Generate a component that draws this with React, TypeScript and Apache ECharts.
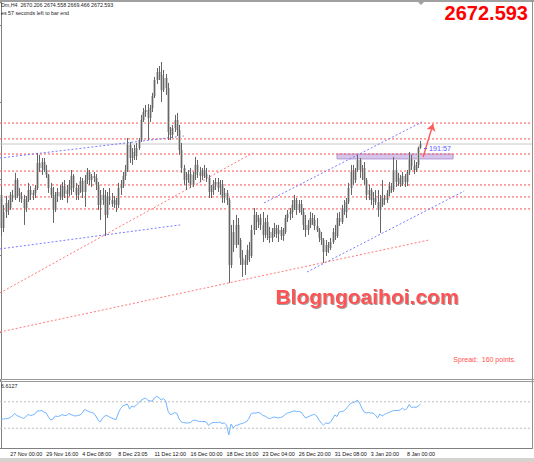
import React, { useEffect, useRef } from "react";
import * as echarts from "echarts";

// ---------- texts (as far as they are visible in the window) ----------
const symbolLabel = "Dm,H4  2670.206 2674.558 2669.466 2672.593";
const timerLabel = "es 57 seconds left to bar end";
const bidLabel = "2672.593";
const spreadLabel = "Spread:  160 points.";
const watermarkLabel = "Blogngoaihoi.com";
const countdownLabel = "191:57";
const rsiLabel = "6.6127";

// ---------- x axis ----------
const SLOTS = 236; // bar slots across the window (includes right chart shift)
const tickIndex = [4, 20, 36, 52, 68, 84, 100, 116, 132, 148, 164, 180];
const tickLabels = [
  "27 Nov 00:00", "29 Nov 16:00", "4 Dec 08:00", "8 Dec 23:05", "11 Dec 12:00", "16 Dec 00:00",
  "18 Dec 16:00", "23 Dec 04:00", "26 Dec 20:00", "31 Dec 08:00", "3 Jan 20:00", "8 Jan 00:00",
];

// ---------- OHLC bars [open, high, low, close] ----------
const barsNov = [
  [2639.5, 2645.3, 2612.8, 2618.0], [2618.0, 2633.0, 2615.4, 2628.4], [2628.4, 2638.8, 2624.5, 2634.3],
  [2634.3, 2636.2, 2626.5, 2631.0], [2631.0, 2641.4, 2629.7, 2639.5], [2639.5, 2642.7, 2634.9, 2637.5],
  [2637.5, 2653.8, 2636.2, 2649.2], [2649.2, 2650.5, 2637.5, 2640.8], [2640.8, 2644.0, 2634.9, 2638.8],
  [2638.8, 2641.4, 2634.3, 2636.9], [2636.9, 2639.5, 2620.0, 2631.0], [2631.0, 2638.8, 2628.4, 2636.2],
  [2636.2, 2647.3, 2634.9, 2642.7], [2642.7, 2645.3, 2636.2, 2639.5], [2639.5, 2642.7, 2636.2, 2640.8],
  [2640.8, 2646.0, 2637.5, 2644.0], [2644.0, 2666.8, 2642.7, 2660.3], [2660.3, 2665.5, 2654.4, 2657.0],
  [2657.0, 2663.5, 2652.5, 2660.9], [2660.9, 2663.5, 2654.4, 2655.7], [2655.7, 2659.0, 2650.5, 2652.5],
  [2652.5, 2653.1, 2640.8, 2644.0], [2644.0, 2647.3, 2637.5, 2639.5], [2639.5, 2644.7, 2621.3, 2629.7],
  [2629.7, 2641.4, 2628.4, 2638.8], [2638.8, 2644.0, 2634.9, 2641.4], [2641.4, 2646.0, 2636.2, 2638.2],
  [2638.2, 2647.9, 2636.2, 2645.3], [2645.3, 2649.2, 2637.5, 2640.1], [2640.1, 2646.0, 2634.3, 2642.7],
  [2642.7, 2649.2, 2638.8, 2646.6], [2646.6, 2655.7, 2639.5, 2651.8], [2651.8, 2653.1, 2641.4, 2644.0],
  [2644.0, 2647.3, 2636.2, 2639.5], [2639.5, 2646.0, 2636.2, 2642.7], [2642.7, 2651.2, 2640.8, 2648.6],
  [2648.6, 2650.5, 2637.5, 2641.4], [2641.4, 2652.5, 2631.7, 2649.2], [2649.2, 2657.0, 2646.6, 2654.4],
  [2654.4, 2655.7, 2646.0, 2649.2], [2649.2, 2653.1, 2644.7, 2651.8], [2651.8, 2654.4, 2647.9, 2650.5],
  [2650.5, 2653.1, 2642.7, 2646.0], [2646.0, 2647.9, 2629.7, 2633.0], [2633.0, 2642.7, 2623.2, 2639.5],
  [2639.5, 2644.0, 2633.0, 2636.2], [2636.2, 2642.7, 2612.8, 2626.5], [2626.5, 2641.4, 2624.5, 2638.8],
  [2638.8, 2644.0, 2633.0, 2636.2], [2636.2, 2640.8, 2631.7, 2633.6],
];
const barsDecA = [
  [2633.6, 2638.8, 2631.0, 2636.2], [2636.2, 2637.5, 2628.4, 2633.0], [2633.0, 2647.3, 2631.0, 2644.0],
  [2644.0, 2649.2, 2639.5, 2646.0], [2646.0, 2654.4, 2644.0, 2651.8], [2651.8, 2659.0, 2649.2, 2655.7],
  [2655.7, 2676.5, 2654.4, 2672.0], [2672.0, 2673.9, 2660.3, 2663.5], [2663.5, 2670.0, 2659.0, 2667.4],
  [2667.4, 2672.0, 2662.2, 2664.8], [2664.8, 2673.3, 2662.2, 2670.0], [2670.0, 2676.5, 2668.7, 2675.2],
  [2675.2, 2691.5, 2673.9, 2688.2], [2688.2, 2696.0, 2686.9, 2693.4], [2693.4, 2698.0, 2690.2, 2694.7],
  [2694.7, 2698.6, 2675.2, 2689.5], [2689.5, 2698.0, 2686.9, 2696.0], [2696.0, 2705.8, 2693.4, 2703.8],
  [2703.8, 2716.2, 2702.5, 2714.2], [2714.2, 2722.0, 2711.6, 2719.4], [2719.4, 2723.3, 2714.2, 2717.5],
  [2717.5, 2725.9, 2699.9, 2707.7], [2707.7, 2720.7, 2706.4, 2715.5], [2715.5, 2718.1, 2704.5, 2709.0],
  [2709.0, 2712.3, 2675.2, 2680.4], [2680.4, 2683.7, 2675.2, 2678.5], [2678.5, 2685.0, 2676.5, 2683.0],
  [2683.0, 2691.5, 2680.4, 2688.2], [2688.2, 2692.8, 2677.8, 2681.7], [2681.7, 2685.0, 2665.5, 2668.7],
  [2668.7, 2673.3, 2653.8, 2657.0], [2657.0, 2659.0, 2646.0, 2649.2], [2649.2, 2654.4, 2642.7, 2651.8],
  [2651.8, 2655.7, 2647.3, 2653.1], [2653.1, 2657.0, 2644.0, 2646.0], [2646.0, 2654.4, 2644.7, 2652.5],
  [2652.5, 2664.2, 2649.2, 2659.0], [2659.0, 2662.2, 2650.5, 2654.4], [2654.4, 2657.7, 2647.9, 2651.8],
  [2651.8, 2657.0, 2649.2, 2655.7], [2655.7, 2659.0, 2650.5, 2653.1], [2653.1, 2657.0, 2647.9, 2650.5],
  [2650.5, 2652.5, 2637.5, 2641.4], [2641.4, 2646.0, 2637.5, 2642.7], [2642.7, 2649.2, 2639.5, 2646.0],
  [2646.0, 2650.5, 2642.7, 2647.9], [2647.9, 2650.5, 2641.4, 2644.0], [2644.0, 2649.2, 2639.5, 2646.6],
  [2646.6, 2649.2, 2634.3, 2637.5], [2637.5, 2644.0, 2634.3, 2640.8],
];
const barsDecB = [
  [2640.8, 2642.7, 2633.0, 2636.2], [2636.2, 2637.5, 2582.3, 2594.0], [2594.0, 2620.0, 2592.0, 2615.4],
  [2615.4, 2623.2, 2602.4, 2607.0], [2607.0, 2626.5, 2605.0, 2620.0], [2620.0, 2624.5, 2607.0, 2610.2],
  [2610.2, 2611.5, 2594.0, 2598.5], [2598.5, 2603.7, 2586.2, 2594.0], [2594.0, 2600.5, 2587.5, 2597.2],
  [2597.2, 2607.0, 2594.0, 2603.7], [2603.7, 2608.9, 2595.9, 2599.8], [2599.8, 2620.0, 2598.5, 2616.7],
  [2616.7, 2631.0, 2613.5, 2626.5], [2626.5, 2628.4, 2616.7, 2621.9], [2621.9, 2626.5, 2618.0, 2624.5],
  [2624.5, 2627.1, 2616.7, 2620.0], [2620.0, 2628.4, 2608.9, 2613.5], [2613.5, 2624.5, 2611.5, 2621.9],
  [2621.9, 2626.5, 2610.2, 2615.4], [2615.4, 2618.7, 2608.3, 2611.5], [2611.5, 2618.0, 2608.9, 2615.4],
  [2615.4, 2621.3, 2612.2, 2618.0], [2618.0, 2620.0, 2611.5, 2614.1], [2614.1, 2620.0, 2608.9, 2616.7],
  [2616.7, 2618.7, 2610.2, 2612.8], [2612.8, 2618.0, 2609.6, 2615.4], [2615.4, 2626.5, 2614.1, 2624.5],
  [2624.5, 2629.7, 2621.9, 2627.1], [2627.1, 2631.0, 2623.2, 2628.4], [2628.4, 2636.2, 2624.5, 2633.0],
  [2633.0, 2639.5, 2629.7, 2636.2], [2636.2, 2637.5, 2626.5, 2629.7], [2629.7, 2636.2, 2627.8, 2633.6],
  [2633.6, 2636.2, 2626.5, 2628.4], [2628.4, 2631.0, 2616.7, 2620.0], [2620.0, 2626.5, 2612.2, 2616.7],
  [2616.7, 2623.2, 2613.5, 2620.0], [2620.0, 2628.4, 2618.0, 2624.5], [2624.5, 2627.8, 2620.0, 2623.2],
  [2623.2, 2626.5, 2616.7, 2619.3], [2619.3, 2624.5, 2615.4, 2616.7], [2616.7, 2618.0, 2608.9, 2611.5],
  [2611.5, 2615.4, 2607.0, 2610.2], [2610.2, 2611.5, 2595.3, 2602.4], [2602.4, 2610.2, 2599.8, 2607.0],
  [2607.0, 2608.9, 2601.8, 2605.0], [2605.0, 2611.5, 2603.7, 2608.9], [2608.9, 2618.0, 2607.6, 2615.4],
  [2615.4, 2620.0, 2610.2, 2612.8], [2612.8, 2627.8, 2611.5, 2624.5],
];
const barsJan = [
  [2624.5, 2628.4, 2619.3, 2621.9], [2621.9, 2633.0, 2620.6, 2631.0], [2631.0, 2636.2, 2626.5, 2628.4],
  [2628.4, 2637.5, 2624.5, 2634.9], [2634.9, 2647.3, 2633.6, 2644.0], [2644.0, 2659.0, 2639.5, 2654.4],
  [2654.4, 2659.0, 2646.0, 2649.2], [2649.2, 2657.0, 2647.3, 2655.7], [2655.7, 2665.5, 2654.4, 2662.2],
  [2662.2, 2663.5, 2650.5, 2655.7], [2655.7, 2659.0, 2649.2, 2657.0], [2657.0, 2660.9, 2646.0, 2649.2],
  [2649.2, 2650.5, 2636.2, 2639.5], [2639.5, 2646.0, 2636.2, 2642.7], [2642.7, 2644.0, 2633.0, 2636.2],
  [2636.2, 2641.4, 2631.0, 2637.5], [2637.5, 2642.7, 2633.0, 2634.9], [2634.9, 2642.7, 2625.2, 2629.7],
  [2629.7, 2639.5, 2614.8, 2633.0], [2633.0, 2649.2, 2631.7, 2637.5], [2637.5, 2639.5, 2633.0, 2636.2],
  [2636.2, 2642.7, 2634.3, 2640.8], [2640.8, 2647.9, 2638.8, 2645.3], [2645.3, 2647.3, 2640.8, 2642.7],
  [2642.7, 2664.2, 2641.4, 2655.7], [2655.7, 2662.2, 2644.7, 2647.9], [2647.9, 2653.8, 2645.3, 2650.5],
  [2650.5, 2652.5, 2644.7, 2646.6], [2646.6, 2654.4, 2645.3, 2651.8], [2651.8, 2653.1, 2644.7, 2647.9],
  [2647.9, 2655.7, 2645.3, 2654.4], [2654.4, 2667.4, 2652.5, 2663.5], [2663.5, 2665.5, 2655.7, 2658.3],
  [2658.3, 2662.2, 2653.1, 2655.7], [2655.7, 2660.9, 2654.4, 2659.0], [2659.0, 2670.9, 2657.0, 2670.2],
  [2670.206, 2674.558, 2669.466, 2672.593],
];

// ---------- RSI(14) ----------
const rsiEarly = [
  43.5, 43.9, 44.4, 44.7, 46.2, 48.5, 52.3, 49.2, 47.7, 46.2,
  44.7, 47.7, 50.8, 49.2, 50.0, 51.5, 56.1, 56.1, 56.8, 54.5,
  53.0, 47.0, 42.4, 43.9, 48.5, 47.7, 48.5, 50.8, 49.2, 49.2,
  52.3, 50.8, 49.2, 48.5, 49.2, 50.0, 53.0, 58.3, 56.8, 55.3,
  53.8, 53.0, 48.5, 42.4, 39.4, 45.5, 48.5, 49.2, 47.0, 45.5,
  43.9, 43.2, 53.0, 59.8, 63.6, 65.2, 66.7, 59.1, 63.6, 62.1,
  65.2, 68.2, 72.0, 74.2, 75.8, 72.7, 71.2, 71.2, 75.8, 78.0,
  76.5, 72.7, 75.0, 71.2, 56.1, 50.8, 51.5, 53.8, 52.3, 43.9,
  39.4, 38.6, 37.9, 37.9, 38.6, 41.7, 42.4, 40.9, 40.2, 40.2,
  40.2, 39.4, 34.1, 37.1, 38.6, 38.6, 38.6, 39.4, 37.1, 37.9,
];
const rsiLate = [
  34.8, 19.7, 36.4, 30.3, 34.1, 34.8, 36.4, 37.1, 38.6, 40.2,
  45.5, 52.3, 53.0, 53.0, 53.8, 53.0, 49.2, 48.5, 46.2, 44.7,
  45.5, 47.0, 46.2, 45.5, 46.2, 47.7, 50.8, 53.0, 53.8, 55.3,
  56.1, 55.3, 55.3, 54.5, 50.0, 45.5, 47.0, 48.5, 50.0, 50.8,
  48.5, 42.4, 37.9, 34.8, 37.9, 37.1, 38.6, 43.9, 50.0, 47.7,
  54.5, 55.3, 56.1, 59.1, 63.6, 67.4, 68.9, 69.7, 72.7, 68.2,
  60.6, 54.5, 53.0, 53.8, 53.0, 53.0, 50.0, 45.5, 51.5, 48.5,
  50.8, 52.3, 53.8, 55.3, 56.8, 56.8, 56.8, 57.6, 60.6, 57.6,
  59.8, 65.9, 61.4, 62.1, 61.4, 63.6, 66.6,
];
const rsiLevels = [30, 70];

// ---------- drawn objects (bar index, price) ----------
const levels = [2686.2, 2675.9, 2666.1, 2655.0, 2646.0, 2638.2, 2630.4];
const lastPrice = 2672.593;
const blueLines = [
  [[-0.5, 2663.5], [81.1, 2677.8]],
  [[-0.5, 2604.4], [79.4, 2620.0]],
  [[116.6, 2634.3], [186.7, 2686.9]],
  [[135.7, 2589.4], [205.4, 2642.0]],
];
const redLines = [
  [[-0.5, 2575.8], [111.7, 2666.8]],
  [[-0.5, 2550.4], [189.8, 2610.2]],
];
const arrowLine = [[187.2, 2664.2], [191.6, 2685.6]];
const zone = [[149.0, 2666.1], [200.5, 2662.9]];

const FONT = "Liberation Sans, Arial, sans-serif";

export default function App() {
  const ref = useRef<HTMLDivElement>(null);
  useEffect(() => {
    const chart = echarts.init(ref.current!, null, { renderer: "svg" });
    const bars = [...barsNov, ...barsDecA, ...barsDecB, ...barsJan];
    const rsi = [...rsiEarly, ...rsiLate];
    const categories = Array.from({ length: SLOTS }, (_, i) => String(i));
    const labelAt = new Map<number, string>();
    tickIndex.forEach((idx, k) => labelAt.set(idx, tickLabels[k]));
    const showTick = (index: number) => labelAt.has(index);
    const xFirst = -0.5;
    const xLast = SLOTS - 0.5;

    const lineSeries = (pts: number[][], color: string, type: any, z = 3, xi = 0, yi = 0) => ({
      type: "line",
      xAxisIndex: xi,
      yAxisIndex: yi,
      data: pts,
      symbol: "none",
      silent: true,
      z,
      color,
      lineStyle: { color, width: 1, type },
    });

    const option: any = {
      animation: false,
      backgroundColor: "#ffffff",
      grid: [
        { left: 0, right: 2, top: 2, height: 378 },
        { left: 0, right: 2, top: 382, height: 66 },
      ],
      xAxis: [
        { type: "value", gridIndex: 0, min: xFirst, max: xLast, show: false },
        {
          type: "category",
          gridIndex: 1,
          data: categories,
          boundaryGap: true,
          axisLine: { lineStyle: { color: "#808080" } },
          axisTick: { interval: showTick, alignWithLabel: true, length: 3, lineStyle: { color: "#333" } },
          axisLabel: {
            interval: showTick,
            formatter: (_v: string, i: number) => labelAt.get(i) ?? "",
            align: "left",
            fontSize: 5.4,
            fontFamily: FONT,
            color: "#111",
            margin: 3,
          },
          splitLine: { show: false },
        },
        { type: "value", gridIndex: 1, min: xFirst, max: xLast, show: false },
      ],
      yAxis: [
        {
          type: "value",
          gridIndex: 0,
          min: 2519.2,
          max: 2764.9,
          position: "right",
          axisLine: { show: true, lineStyle: { color: "#808080" } },
          axisTick: { show: true, inside: true, length: 3, lineStyle: { color: "#808080" } },
          axisLabel: { show: false },
          splitLine: { show: false },
        },
        {
          type: "value",
          gridIndex: 1,
          min: 0,
          max: 100,
          position: "right",
          axisLine: { show: true, lineStyle: { color: "#808080" } },
          axisTick: { show: false },
          axisLabel: { show: false },
          splitLine: { show: false },
        },
      ],
      series: [
        // horizontal support / resistance levels
        ...levels.map((v) => lineSeries([[xFirst, v], [xLast, v]], "#ff5050", [2, 2], 2)),
        // current bid line
        lineSeries([[xFirst, lastPrice], [xLast, lastPrice]], "#c8c8c8", "solid", 2),
        // zone rectangle
        {
          type: "line",
          xAxisIndex: 0,
          yAxisIndex: 0,
          data: [],
          silent: true,
          z: 2,
          markArea: {
            silent: true,
            itemStyle: { color: "rgba(196,172,226,0.7)", borderColor: "#b39ad4", borderWidth: 1 },
            data: [[{ coord: zone[0] }, { coord: zone[1] }]],
          },
        },
        ...blueLines.map((l) => lineSeries(l, "#7a7aff", [2, 2])),
        ...redLines.map((l) => lineSeries(l, "#ff7a7a", [2, 2])),
        {
          type: "custom",
          xAxisIndex: 0,
          yAxisIndex: 0,
          z: 5,
          clip: true,
          silent: true,
          data: bars.map((b, i) => [i, b[0], b[1], b[2], b[3]]),
          encode: { x: 0, y: [1, 2, 3, 4] },
          renderItem: (_p: any, api: any) => {
            const i = api.value(0);
            const o = api.coord([i, api.value(1)]);
            const h = api.coord([i, api.value(2)]);
            const l = api.coord([i, api.value(3)]);
            const c = api.coord([i, api.value(4)]);
            const x = Math.round(o[0]) + 0.5;
            const top = Math.min(o[1], c[1]);
            const bh = Math.max(1, Math.abs(o[1] - c[1]));
            return {
              type: "group",
              children: [
                { type: "rect", shape: { x: x - 1.5, y: top, width: 3, height: bh }, style: { fill: "#c6c6c6" } },
                { type: "line", shape: { x1: x, y1: h[1], x2: x, y2: l[1] }, style: { stroke: "#666666", lineWidth: 1 } },
              ],
            };
          },
        },
        {
          type: "line",
          xAxisIndex: 0,
          yAxisIndex: 0,
          data: [],
          silent: true,
          z: 6,
          color: "#ff5a5a",
          markLine: {
            silent: true,
            symbol: ["none", "arrow"],
            symbolSize: [7, 7],
            label: { show: false },
            lineStyle: { color: "#ff5a5a", width: 1.4, type: "solid" },
            data: [[{ coord: arrowLine[0] }, { coord: arrowLine[1] }]],
          },
        },
        // RSI level lines
        ...rsiLevels.map((v) => lineSeries([[xFirst, v], [xLast, v]], "#bdbdbd", [2, 2], 2, 2, 1)),
        {
          type: "line",
          xAxisIndex: 1,
          yAxisIndex: 1,
          data: rsi,
          symbol: "none",
          silent: true,
          z: 4,
          color: "#72b4ff",
          lineStyle: { color: "#72b4ff", width: 1 },
        },
      ],
      graphic: [
        { type: "line", shape: { x1: 0, y1: 1, x2: 534, y2: 1 }, style: { stroke: "#a0a0a0", lineWidth: 2 }, z: 20 },
        { type: "polygon", shape: { points: [[417, 1], [425, 1], [421, 5]] }, style: { fill: "#a0a0a0" }, z: 20 },
        { type: "line", shape: { x1: 0, y1: 379.5, x2: 534, y2: 379.5 }, style: { stroke: "#9a9a9a", lineWidth: 1 }, z: 20 },
        { type: "line", shape: { x1: 0, y1: 381.5, x2: 534, y2: 381.5 }, style: { stroke: "#9a9a9a", lineWidth: 1 }, z: 20 },
        { type: "line", shape: { x1: 532.5, y1: 0, x2: 532.5, y2: 449 }, style: { stroke: "#909090", lineWidth: 1 }, z: 20 },
        { type: "rect", shape: { x: 0, y: 458, width: 534, height: 4 }, style: { fill: "#d6d3ce" }, z: 20 },
        {
          type: "text", x: 1, y: 5, z: 20,
          style: { text: symbolLabel, fontSize: 5.3, fontFamily: FONT, fill: "#222", verticalAlign: "middle" },
        },
        {
          type: "text", x: 1, y: 13, z: 20,
          style: { text: timerLabel, fontSize: 5.3, fontFamily: FONT, fill: "#222", verticalAlign: "middle" },
        },
        {
          type: "text", x: 528, y: 13, z: 20,
          style: { text: bidLabel, font: `bold 20px ${FONT}`, fill: "#ff0000", align: "right", verticalAlign: "middle" },
        },
        {
          type: "text", x: 367, y: 296, z: 20,
          style: {
            text: watermarkLabel, font: `bold 21px ${FONT}`, fill: "#ff5252", align: "center", verticalAlign: "middle",
            textShadowColor: "rgba(80,80,80,0.55)", textShadowBlur: 1, textShadowOffsetX: 1, textShadowOffsetY: 1,
          },
        },
        {
          type: "text", x: 516, y: 359, z: 20,
          style: { text: spreadLabel, fontSize: 7, fontFamily: FONT, fill: "#ff5050", align: "right", verticalAlign: "middle" },
        },
        { type: "line", shape: { x1: 424, y1: 148.5, x2: 427, y2: 148.5 }, style: { stroke: "#6060ff", lineWidth: 1 }, z: 20 },
        {
          type: "text", x: 429, y: 148.5, z: 20,
          style: { text: countdownLabel, fontSize: 7.2, fontFamily: FONT, fill: "#5a5aff", verticalAlign: "middle" },
        },
        {
          type: "text", x: 1, y: 386, z: 20,
          style: { text: rsiLabel, fontSize: 5.4, fontFamily: FONT, fill: "#222", verticalAlign: "middle" },
        },
      ],
    };
    chart.setOption(option);
    return () => chart.dispose();
  }, []);
  return (
    <div
      ref={ref}
      style={{ position: "fixed", left: 0, top: 0, width: 534, height: 462, background: "#ffffff" }}
    />
  );
}
